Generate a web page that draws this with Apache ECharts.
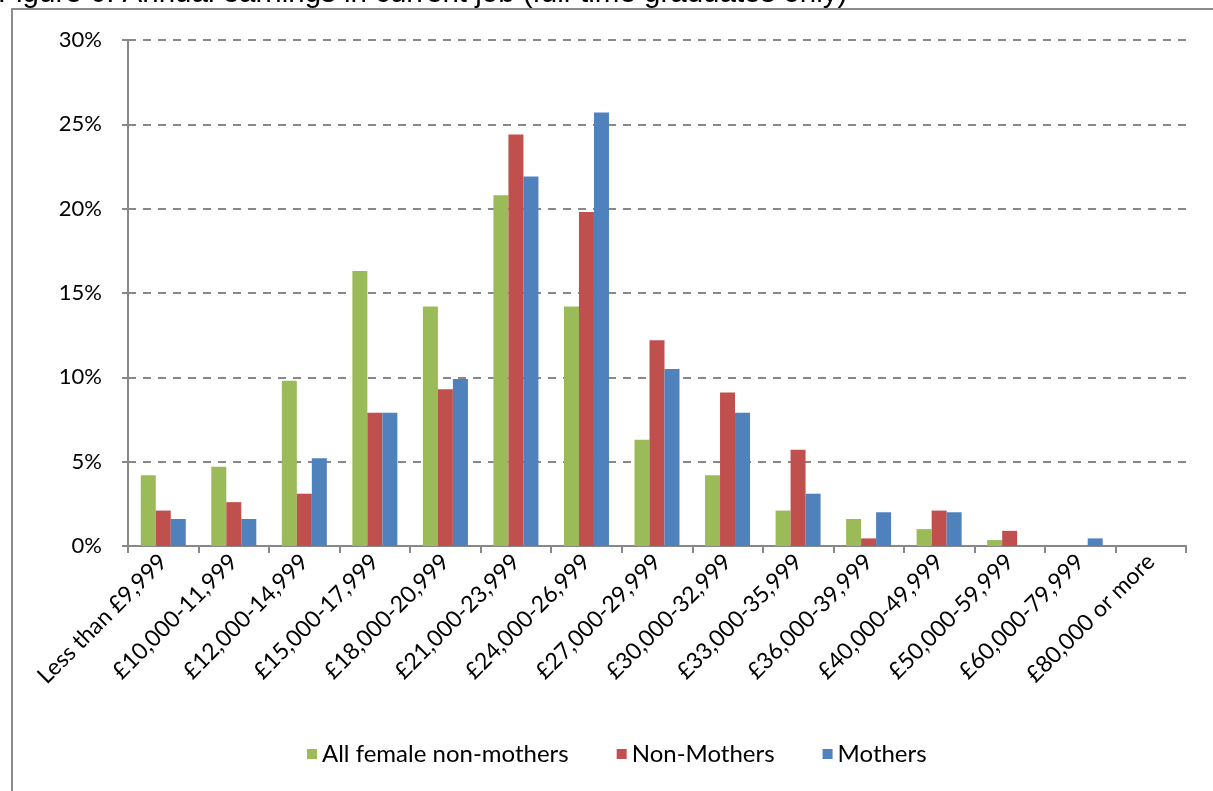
<!DOCTYPE html>
<html><head><meta charset="utf-8">
<script src="https://cdn.jsdelivr.net/npm/echarts@6/dist/echarts.min.js"></script>
<style>html,body{margin:0;padding:0;background:#fff}#c{width:1213px;height:791px}</style>
</head><body><div id="c"></div>
<script>
const categories = ["Less than £9,999","£10,000-11,999","£12,000-14,999","£15,000-17,999","£18,000-20,999","£21,000-23,999","£24,000-26,999","£27,000-29,999","£30,000-32,999","£33,000-35,999","£36,000-39,999","£40,000-49,999","£50,000-59,999","£60,000-79,999","£80,000 or more"];
const allFemaleNonMothers = [4.2,4.7,9.8,16.3,14.2,20.8,14.2,6.3,4.2,2.1,1.6,1.0,0.35,0,0];
const nonMothers = [2.1,2.6,3.1,7.9,9.3,24.4,19.8,12.2,9.1,5.7,0.45,2.1,0.9,0,0];
const mothers = [1.6,1.6,5.2,7.9,9.9,21.9,25.7,10.5,7.9,3.1,2.0,2.0,0,0.45,0];
const titleText = "Figure 6: Annual earnings in current job (full-time graduates only)";

const font = 'Lato, "Open Sans", sans-serif';
const chart = echarts.init(document.getElementById('c'));
function bar(name, data, color){
  return {name, type:'bar', data, barWidth:15, barGap:'0%',
    itemStyle:{color}};
}
chart.setOption({
  animation:false,
  textStyle:{fontFamily:font},
  graphic:[
    {type:'rect', shape:{x:12,y:9,width:1300,height:900}, style:{fill:'none',stroke:'#8c8c8c',lineWidth:2}, z:-1},
    {type:'text', left:-2, top:-21, style:{text:titleText, font:'29.5px "Liberation Sans", Arial, sans-serif', fill:'#000'}}
  ],
  grid:{left:128, right:27, top:40, bottom:245, containLabel:false},
  legend:{bottom:20, left:302, itemWidth:10, itemHeight:10, itemGap:48, icon:'rect',
    textStyle:{fontSize:24, fontFamily:font, color:'#000'},
    data:['All female non-mothers','Non-Mothers','Mothers']},
  xAxis:{type:'category', data:categories,
    axisLine:{lineStyle:{color:'#888',width:2}},
    axisTick:{show:true, length:7, lineStyle:{color:'#888',width:2}, alignWithLabel:false},
    axisLabel:{rotate:45, fontSize:23, color:'#000', fontFamily:font, interval:0, margin:12}},
  yAxis:{type:'value', min:0, max:30, interval:5,
    axisLine:{show:true, lineStyle:{color:'#888',width:2}},
    axisTick:{show:true, length:6, lineStyle:{color:'#888',width:2}},
    axisLabel:{formatter:'{value}%', fontSize:22, color:'#000', fontFamily:font, margin:26},
    splitLine:{lineStyle:{color:'#888', width:2, type:[8,7]}}},
  series:[
    bar('All female non-mothers', allFemaleNonMothers, '#9bbb59'),
    bar('Non-Mothers', nonMothers, '#c0504d'),
    bar('Mothers', mothers, '#4f81bd')
  ]
});
</script></body></html>
